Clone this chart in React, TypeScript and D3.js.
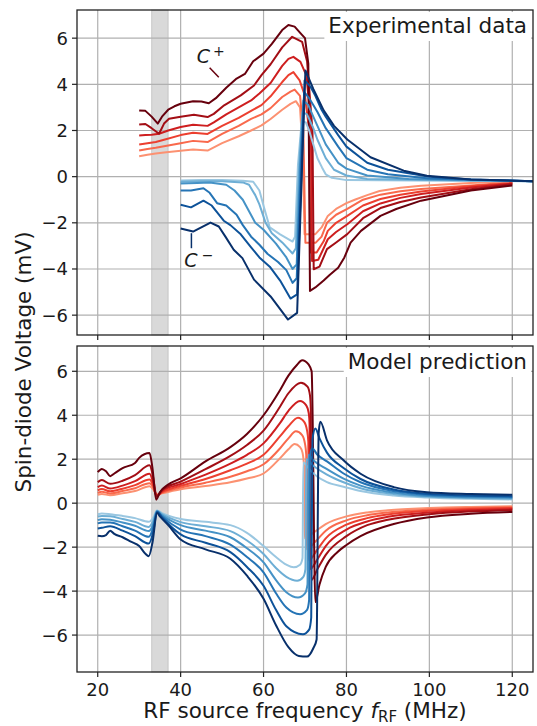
import * as d3 from "d3";
import { useEffect, useRef } from "react";

type Pt = [number, number];

// ---- top panel: measured spin-diode voltage, [f (MHz), V (mV)] ----
const expRed1: Pt[] = [[30,0.88],[32,0.95],[34,1.0],[36,1.05],[40,1.12],[43,1.18],[46.5,1.13],[50,1.45],[54,1.75],[57,2.0],[59.5,2.22],[61.7,2.5],[64.5,2.9],[66.5,3.15],[67.8,3.27],[68.8,3.0],[69.4,1.2],[69.9,-2.49],[72.5,-2.49],[74,-2.2],[75.5,-1.7],[77.5,-1.4],[80,-1.15],[82,-1.0],[85,-0.8],[88,-0.62],[93,-0.48],[98,-0.39],[110,-0.28],[120,-0.2]];
const expRed2: Pt[] = [[30,1.13],[32,1.2],[34,1.25],[36,1.32],[40,1.45],[43,1.55],[46.5,1.5],[50,1.85],[54,2.2],[57,2.5],[59.5,2.7],[61.7,2.97],[64.5,3.45],[66.5,3.68],[67.5,3.77],[68.8,3.5],[69.6,2.0],[70.1,-2.86],[72.6,-2.86],[74,-2.6],[75.3,-2.0],[77.5,-1.65],[80.2,-1.4],[84,-1.0],[88.2,-0.78],[93,-0.63],[98,-0.54],[110,-0.38],[120,-0.25]];
const expRed3: Pt[] = [[30,1.39],[32,1.45],[34,1.5],[36,1.6],[40,1.8],[43,1.9],[46.5,1.85],[50,2.2],[54,2.55],[57,2.85],[59.5,3.1],[61.7,3.48],[64.5,4.1],[66,4.4],[67.2,4.53],[68.7,4.17],[70,3.5],[71,2.0],[71.3,-3.29],[72.8,-3.29],[74.5,-2.8],[75.5,-2.35],[77.5,-2.0],[80.2,-1.7],[84,-1.25],[88.2,-0.97],[93,-0.78],[98,-0.64],[110,-0.42],[120,-0.28]];
const expRed4: Pt[] = [[30,1.78],[31.5,1.8],[33,1.82],[34.8,1.86],[37,2.0],[40,2.15],[43,2.25],[46.5,2.2],[48,2.35],[51,2.7],[54,3.0],[57,3.3],[59,3.6],[61.7,4.06],[64.5,4.8],[66,5.1],[67.2,5.19],[68.9,4.97],[70.3,4.4],[71.4,2.5],[71.7,-3.65],[73.2,-3.6],[74.5,-3.1],[75.5,-2.71],[77.5,-2.4],[80.2,-2.06],[84,-1.5],[88.2,-1.16],[93,-0.92],[98,-0.75],[110,-0.47],[120,-0.3]];
const expRed5: Pt[] = [[30,2.26],[31.5,2.28],[33,2.1],[34.8,1.86],[36,2.3],[37.2,2.51],[40,2.6],[43.2,2.68],[46.5,2.58],[48,2.72],[50.5,3.09],[54.5,3.52],[57.7,3.95],[59.5,4.4],[61.7,4.87],[64.5,5.6],[66.9,6.06],[69.3,5.84],[70.5,5.0],[71.8,2.0],[72.1,-4.01],[73.5,-3.9],[75.3,-3.14],[77.5,-2.85],[80.2,-2.49],[84,-1.8],[88.2,-1.36],[93,-1.1],[98,-0.9],[110,-0.55],[120,-0.33]];
const expRed6: Pt[] = [[30,2.87],[31.5,2.85],[33,2.6],[34.5,2.3],[35.5,2.6],[37,2.9],[38.5,3.05],[40,3.16],[43,3.27],[45,3.26],[46.8,3.18],[48.5,3.4],[51,3.85],[53.5,4.25],[55.5,4.45],[57.5,5.0],[60,5.33],[62,5.75],[64.5,6.35],[66,6.57],[67.5,6.5],[69,6.2],[70,6.0],[70.8,4.9],[71.2,-4.95],[72.5,-4.8],[74.5,-4.5],[76,-4.25],[78,-3.95],[79.5,-3.5],[81,-2.86],[83.5,-2.35],[88.2,-1.7],[92,-1.4],[98,-1.04],[110,-0.6],[120,-0.38]];

const expBlue1: Pt[] = [[40,-0.17],[45,-0.15],[50,-0.15],[55,-0.18],[57.5,-0.22],[59,-0.6],[60.1,-1.33],[61.5,-2.2],[64,-2.5],[67,-2.81],[67.6,-2.6],[68.3,0.5],[69.2,2.4],[70.2,2.35],[71,2.0],[72,1.4],[73,0.8],[74.1,0.4],[75,0.1],[76.5,-0.05],[80,-0.15],[125,-0.2]];
const expBlue2: Pt[] = [[40,-0.22],[45,-0.2],[50,-0.2],[55,-0.25],[56.5,-0.35],[58,-0.8],[59,-1.2],[60.5,-2.0],[62,-2.45],[64.5,-2.85],[67,-3.33],[67.8,-3.1],[68.6,0.5],[69.4,2.8],[70.5,2.7],[72,2.1],[73,1.6],[75,0.8],[77,0.3],[80,0.05],[85,-0.1],[125,-0.2]];
const expBlue3: Pt[] = [[40,-0.3],[44,-0.27],[47,-0.25],[51,-0.35],[53,-0.6],[55,-1.0],[56.5,-1.5],[58,-2.0],[60,-2.3],[63,-2.9],[65.5,-3.5],[67,-4.0],[68,-3.8],[68.8,0.5],[69.6,3.3],[70.8,3.1],[72,2.6],[73,2.2],[75,1.4],[78,0.6],[80,0.35],[85,0.05],[95,-0.1],[125,-0.2]];
const expBlue4: Pt[] = [[40,-0.6],[42.5,-0.6],[45.5,-0.5],[47,-0.7],[48.8,-1.15],[51,-1.25],[53.5,-1.65],[55,-2.1],[57,-2.6],[59,-2.95],[61,-3.35],[63.5,-3.7],[65.5,-4.05],[67,-4.6],[68,-4.4],[69,0.5],[69.8,3.67],[71,3.4],[72,3.1],[73,2.8],[75,2.1],[78,1.3],[80,0.8],[85,0.3],[90,0.1],[100,-0.08],[125,-0.2]];
const expBlue5: Pt[] = [[40,-1.22],[42.5,-1.33],[45.5,-1.04],[47.5,-1.25],[50.4,-1.91],[52,-2.1],[54.5,-2.5],[57,-3.06],[59,-3.5],[61.5,-3.9],[64,-4.5],[66.5,-5.28],[68.1,-5.1],[69.2,0.5],[69.9,4.17],[71.3,3.9],[72.5,3.5],[74,2.9],[75,2.6],[78,1.8],[80,1.3],[85,0.6],[90,0.3],[100,0.0],[110,-0.12],[125,-0.2]];
const expBlue6: Pt[] = [[40,-2.25],[43,-2.38],[47.2,-1.99],[49.2,-2.16],[50.8,-2.6],[52.8,-3.17],[54.9,-3.53],[57.7,-4.46],[61.7,-5.19],[64.1,-5.76],[65.9,-6.19],[68.1,-5.9],[69.3,0.5],[70.1,4.6],[72,3.8],[74.5,2.87],[77,2.2],[80.2,1.61],[85.8,0.84],[93.8,0.26],[99.4,0.04],[110,-0.12],[125,-0.2]];

// ---- bottom panel: model prediction ----
const modRed1: Pt[] = [[20,0.38],[21,0.42],[23,0.36],[26,0.45],[29,0.55],[32.5,0.77],[33.3,0.65],[34.2,0.4],[35.5,0.45],[40,0.63],[46,0.78],[52,0.95],[56,1.12],[60,1.35],[64,2.05],[66,2.45],[67.5,2.69],[68.8,2.55],[69.4,2.3],[69.8,1.6],[69.9,-1.6],[72,-1.35],[75,-0.95],[80,-0.6],[85,-0.42],[90,-0.32],[100,-0.22],[110,-0.17],[120,-0.14]];
const modRed2: Pt[] = [[20,0.47],[21,0.52],[23,0.44],[26,0.55],[29,0.68],[32.5,0.91],[33.3,0.75],[34.2,0.37],[35.5,0.47],[40,0.71],[46,0.93],[52,1.2],[56,1.45],[60,1.77],[64,2.5],[66,2.95],[67.8,3.27],[69.3,3.1],[70,2.7],[70.3,2.2],[70.4,-2.1],[72.5,-1.75],[75,-1.25],[80,-0.78],[85,-0.55],[90,-0.42],[100,-0.29],[110,-0.22],[120,-0.18]];
const modRed3: Pt[] = [[20,0.58],[21,0.64],[23,0.54],[26,0.66],[29,0.82],[32.5,1.08],[33.3,0.85],[34.2,0.35],[35.5,0.5],[40,0.79],[46,1.1],[52,1.5],[56,1.8],[60,2.2],[64,3.05],[66,3.5],[68.3,3.89],[69.8,3.7],[70.5,3.3],[70.8,2.8],[70.9,-2.6],[73,-2.1],[75,-1.6],[80,-0.98],[85,-0.68],[90,-0.51],[100,-0.35],[110,-0.27],[120,-0.22]];
const modRed4: Pt[] = [[20,0.73],[21,0.8],[23,0.67],[26,0.8],[29,1.0],[32.5,1.34],[33.3,1.0],[34.2,0.33],[35.5,0.55],[40,0.87],[46,1.3],[52,1.8],[56,2.2],[60,2.72],[64,3.65],[66,4.2],[68.8,4.65],[70.3,4.45],[70.9,4.1],[71.1,3.6],[71.2,-3.0],[73,-2.55],[75,-1.95],[80,-1.2],[85,-0.83],[90,-0.62],[100,-0.42],[110,-0.32],[120,-0.27]];
const modRed5: Pt[] = [[20,0.96],[21,1.05],[23,0.88],[26,1.02],[29,1.28],[32.5,1.72],[33.3,1.25],[34.2,0.3],[35.5,0.6],[40,0.98],[46,1.55],[52,2.15],[56,2.65],[60,3.3],[64,4.4],[66,5.0],[69,5.48],[70.6,5.3],[71.2,4.9],[71.4,4.3],[71.5,-3.5],[73,-3.0],[75,-2.35],[80,-1.5],[85,-1.0],[90,-0.75],[100,-0.5],[110,-0.38],[120,-0.32]];
const modRed6: Pt[] = [[20,1.41],[21,1.56],[22,1.45],[23,1.23],[24,1.35],[26,1.6],[29,1.83],[30,2.06],[32.5,2.28],[33.2,1.6],[34.1,0.16],[35,0.5],[37,0.85],[40,1.13],[46,1.9],[52,2.55],[56,3.15],[60,4.0],[64,5.15],[66,5.8],[68.1,6.3],[69.3,6.5],[70.9,6.3],[71.6,6.0],[72.5,-4.5],[73.5,-3.7],[75,-2.9],[77.8,-2.23],[80,-1.9],[83.4,-1.5],[91.4,-0.95],[99.4,-0.65],[110,-0.48],[120,-0.4]];

const modBlue1: Pt[] = [[20,-0.5],[21,-0.47],[23,-0.5],[26,-0.58],[29,-0.68],[32.3,-0.85],[33.4,-0.65],[34.3,-0.33],[35.5,-0.45],[40,-0.72],[46,-0.85],[52,-1.0],[56,-1.35],[60,-1.95],[63,-2.45],[65.5,-2.8],[67.3,-2.92],[68.8,-2.8],[69.4,-2.5],[69.6,1.85],[71,1.55],[73,1.2],[75.3,0.96],[79.3,0.75],[83.4,0.55],[91.4,0.35],[99.4,0.26],[110,0.2],[120,0.17]];
const modBlue2: Pt[] = [[20,-0.61],[21,-0.58],[23,-0.6],[26,-0.72],[29,-0.85],[32.3,-1.08],[33.4,-0.8],[34.3,-0.35],[35.5,-0.5],[40,-0.86],[46,-1.05],[52,-1.27],[56,-1.7],[60,-2.31],[63,-2.95],[65.5,-3.35],[68.1,-3.53],[69.6,-3.35],[70.1,-3.0],[70.3,2.0],[72,1.7],[75.3,1.3],[79.3,0.95],[83.4,0.68],[91.4,0.42],[99.4,0.3],[110,0.24],[120,0.2]];
const modBlue3: Pt[] = [[20,-0.77],[21,-0.73],[23,-0.75],[26,-0.88],[29,-1.03],[32.3,-1.27],[33.4,-0.95],[34.3,-0.37],[35.5,-0.55],[40,-1.0],[46,-1.25],[52,-1.55],[56,-2.05],[60,-2.69],[63,-3.5],[65.5,-4.05],[68.3,-4.29],[70,-4.1],[70.6,-3.7],[70.8,2.2],[72,1.95],[75.3,1.55],[79.3,1.12],[83.4,0.8],[91.4,0.48],[99.4,0.33],[110,0.27],[120,0.24]];
const modBlue4: Pt[] = [[20,-0.92],[21,-0.88],[23,-0.88],[26,-1.05],[29,-1.25],[32.3,-1.53],[33.4,-1.1],[34.3,-0.38],[35.5,-0.6],[40,-1.2],[46,-1.5],[52,-1.89],[56,-2.45],[60,-3.15],[63,-4.1],[65.5,-4.75],[68.8,-5.05],[70.5,-4.85],[71,-4.4],[71.2,2.1],[71.7,2.5],[73,2.2],[75.3,1.9],[79.3,1.35],[83.4,0.95],[91.4,0.55],[99.4,0.38],[110,0.31],[120,0.28]];
const modBlue5: Pt[] = [[20,-1.15],[21,-1.12],[23,-1.05],[26,-1.25],[29,-1.5],[32.3,-1.84],[33.4,-1.3],[34.3,-0.4],[35.5,-0.65],[40,-1.42],[46,-1.8],[52,-2.23],[56,-2.9],[60,-3.76],[63,-4.85],[65.5,-5.6],[69.5,-5.96],[71,-5.75],[71.5,-5.2],[71.8,2.9],[72.5,3.4],[73.5,2.95],[75.3,2.3],[79.3,1.6],[83.4,1.1],[91.4,0.62],[99.4,0.43],[110,0.35],[120,0.32]];
const modBlue6: Pt[] = [[20,-1.48],[21,-1.5],[22,-1.45],[23,-1.25],[24,-1.4],[26,-1.55],[28,-1.75],[30,-1.95],[31.5,-2.3],[32.3,-2.41],[33.2,-1.8],[34.3,-0.45],[35,-0.6],[37,-1.0],[40,-1.65],[46,-2.1],[52,-2.53],[56,-3.3],[60,-4.35],[63,-5.55],[66,-6.55],[68.5,-6.95],[70.5,-6.98],[72,-6.6],[72.8,-6.2],[73.3,3.2],[73.7,3.7],[75.3,2.86],[79.3,1.95],[83.4,1.34],[91.4,0.73],[99.4,0.5],[110,0.42],[120,0.38]];

const expRed = [expRed1, expRed2, expRed3, expRed4, expRed5, expRed6];
const expBlue = [expBlue1, expBlue2, expBlue3, expBlue4, expBlue5, expBlue6];
const modRed = [modRed1, modRed2, modRed3, modRed4, modRed5, modRed6];
const modBlue = [modBlue1, modBlue2, modBlue3, modBlue4, modBlue5, modBlue6];

const xTicks = [20, 40, 60, 80, 100, 120];
const yTicks = [-6, -4, -2, 0, 2, 4, 6];
const shadeBand = [33, 37];
const shadeLevels = [0.38, 0.5, 0.62, 0.74, 0.87, 1];

const FONT = "DejaVu Sans, sans-serif";

function App() {
    const svgRef = useRef<SVGSVGElement>(null);

    useEffect(() => {
        const svg = d3.select(svgRef.current);
        svg.selectAll("*").remove();

        const left = 77;
        const right = 533;
        const x = d3.scaleLinear().domain([15, 125]).range([left, right]);

        const panels = [
            { top: 10, bottom: 335, yDomain: [-6.86, 7.22], red: expRed, blue: expBlue, title: "Experimental data", curve: d3.curveLinear },
            { top: 346, bottom: 672, yDomain: [-7.68, 7.15], red: modRed, blue: modBlue, title: "Model prediction", curve: d3.curveMonotoneX },
        ];

        panels.forEach((p, pi) => {
            const y = d3.scaleLinear().domain(p.yDomain).range([p.bottom, p.top]);
            const g = svg.append("g");

            const clipId = `clip-${pi}`;
            svg.append("clipPath").attr("id", clipId)
                .append("rect")
                .attr("x", left).attr("y", p.top)
                .attr("width", right - left).attr("height", p.bottom - p.top);

            // shaded band
            g.append("rect")
                .attr("x", x(shadeBand[0]))
                .attr("y", p.top)
                .attr("width", x(shadeBand[1]) - x(shadeBand[0]))
                .attr("height", p.bottom - p.top)
                .attr("fill", "#808080")
                .attr("fill-opacity", 0.3)
                .attr("stroke", "#808080")
                .attr("stroke-opacity", 0.3);

            // grid
            g.selectAll(".gx").data(xTicks).enter().append("line")
                .attr("x1", d => x(d)).attr("x2", d => x(d))
                .attr("y1", p.top).attr("y2", p.bottom)
                .attr("stroke", "#b0b0b0").attr("stroke-width", 1.2);
            g.selectAll(".gy").data(yTicks).enter().append("line")
                .attr("x1", left).attr("x2", right)
                .attr("y1", d => y(d)).attr("y2", d => y(d))
                .attr("stroke", "#b0b0b0").attr("stroke-width", 1.2);

            // curves
            const line = d3.line<Pt>().x(d => x(d[0])).y(d => y(d[1])).curve(p.curve);
            const lines = g.append("g").attr("clip-path", `url(#${clipId})`);
            p.red.forEach((s, i) => {
                lines.append("path").attr("d", line(s))
                    .attr("fill", "none")
                    .attr("stroke", d3.interpolateReds(shadeLevels[i]))
                    .attr("stroke-width", 2)
                    .attr("stroke-linejoin", "round");
            });
            p.blue.forEach((s, i) => {
                lines.append("path").attr("d", line(s))
                    .attr("fill", "none")
                    .attr("stroke", d3.interpolateBlues(shadeLevels[i]))
                    .attr("stroke-width", 2)
                    .attr("stroke-linejoin", "round");
            });

            // title box
            const titleText = g.append("text")
                .attr("x", right - 6)
                .attr("y", p.top + 23)
                .attr("text-anchor", "end")
                .style("font-family", FONT)
                .style("font-size", "21.5px")
                .attr("fill", "#1a1a1a")
                .text(p.title);
            const bb = (titleText.node() as SVGTextElement).getBBox();
            g.insert("rect", "text")
                .attr("x", bb.x - 4).attr("y", p.top + 2)
                .attr("width", right - 2 - (bb.x - 4)).attr("height", bb.height + 4)
                .attr("fill", "white");

            // spines
            g.append("rect")
                .attr("x", left).attr("y", p.top)
                .attr("width", right - left).attr("height", p.bottom - p.top)
                .attr("fill", "none").attr("stroke", "#222").attr("stroke-width", 1.3);

            // ticks
            g.selectAll(".tx").data(xTicks).enter().append("line")
                .attr("x1", d => x(d)).attr("x2", d => x(d))
                .attr("y1", p.bottom).attr("y2", p.bottom + 5)
                .attr("stroke", "#222").attr("stroke-width", 1.2);
            g.selectAll(".ty").data(yTicks).enter().append("line")
                .attr("x1", left - 5).attr("x2", left)
                .attr("y1", d => y(d)).attr("y2", d => y(d))
                .attr("stroke", "#222").attr("stroke-width", 1.2);
            g.selectAll(".ly").data(yTicks).enter().append("text")
                .attr("x", left - 9).attr("y", d => y(d))
                .attr("dy", "0.36em")
                .attr("text-anchor", "end")
                .style("font-family", FONT).style("font-size", "18px")
                .attr("fill", "#1a1a1a")
                .text(d => (d < 0 ? "\u2212" + Math.abs(d) : String(d)));

            if (pi === 1) {
                g.selectAll(".lx").data(xTicks).enter().append("text")
                    .attr("x", d => x(d)).attr("y", p.bottom + 24)
                    .attr("text-anchor", "middle")
                    .style("font-family", FONT).style("font-size", "18px")
                    .attr("fill", "#1a1a1a")
                    .text(d => String(d));
            }

            if (pi === 0) {
                // C+ / C- annotations
                g.append("line")
                    .attr("x1", x(47.0)).attr("y1", y(4.72))
                    .attr("x2", x(49.2)).attr("y2", y(4.31))
                    .attr("stroke", "#67000d").attr("stroke-width", 1.5);
                const cp = g.append("text")
                    .attr("x", x(43.9)).attr("y", y(4.93))
                    .style("font-family", FONT).style("font-size", "19px")
                    .attr("fill", "#1a1a1a");
                cp.append("tspan").style("font-style", "italic").text("C");
                cp.append("tspan").attr("dx", 3).attr("dy", -7).style("font-size", "14px").text("+");

                g.append("line")
                    .attr("x1", x(42.6)).attr("y1", y(-2.45))
                    .attr("x2", x(42.6)).attr("y2", y(-3.1))
                    .attr("stroke", "#08306b").attr("stroke-width", 1.5);
                const cm = g.append("text")
                    .attr("x", x(40.9)).attr("y", y(-3.9))
                    .style("font-family", FONT).style("font-size", "19px")
                    .attr("fill", "#1a1a1a");
                cm.append("tspan").style("font-style", "italic").text("C");
                cm.append("tspan").attr("dx", 4).attr("dy", -7).style("font-size", "14px").text("\u2212");
            }
        });

        // axis labels
        const xl = svg.append("text")
            .attr("x", (left + right) / 2).attr("y", 718)
            .attr("text-anchor", "middle")
            .style("font-family", FONT).style("font-size", "21.5px")
            .attr("fill", "#1a1a1a");
        xl.append("tspan").text("RF source frequency ");
        xl.append("tspan").style("font-style", "italic").text("f");
        xl.append("tspan").attr("dy", 4).style("font-size", "15px").text("RF");
        xl.append("tspan").attr("dy", -4).text(" (MHz)");

        svg.append("text")
            .attr("transform", "translate(31, 362) rotate(-90)")
            .attr("text-anchor", "middle")
            .style("font-family", FONT).style("font-size", "21.5px")
            .attr("fill", "#1a1a1a")
            .text("Spin-diode Voltage (mV)");
    }, []);

    return (
        <svg ref={svgRef} width={537} height={726}
            style={{ position: "absolute", left: 0, top: 0, background: "white" }} />
    );
}

export default App;
